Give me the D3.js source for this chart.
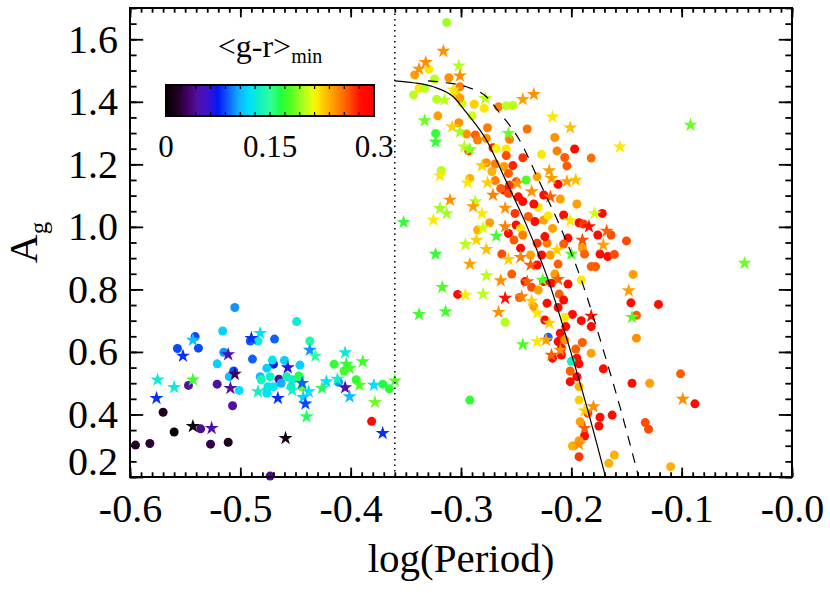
<!DOCTYPE html>
<html>
<head>
<meta charset="utf-8">
<script src="https://cdn.jsdelivr.net/npm/d3@7"></script>
<style>
  body { margin: 0; background: #fff; }
  svg { display: block; font-family: "Liberation Serif", "Times New Roman", serif; }
</style>
</head>
<body>
<svg id="chart" width="830" height="593"></svg>
<script>
const xTicks      = [-0.6, -0.5, -0.4, -0.3, -0.2, -0.1, 0.0];
const xTickLabels = ['-0.6', '-0.5', '-0.4', '-0.3', '-0.2', '-0.1', '-0.0'];
const yTicks      = [0.2, 0.4, 0.6, 0.8, 1.0, 1.2, 1.4, 1.6];
const yTickLabels = ['0.2', '0.4', '0.6', '0.8', '1.0', '1.2', '1.4', '1.6'];

const barTicks      = [0, 0.15, 0.3];
const barTickLabels = ['0', '0.15', '0.3'];

const cutoffPeriod = -0.36;

// solid relation and the same relation shifted (dashed)
const fitX   = [-0.360, -0.343, -0.325, -0.307, -0.295, -0.277, -0.259, -0.240, -0.222, -0.201, -0.186, -0.169];
const fitA   = [1.467, 1.461, 1.448, 1.416, 1.365, 1.278, 1.145, 1.000, 0.841, 0.606, 0.425, 0.200];
const shiftX = [-0.330, -0.313, -0.295, -0.277, -0.265, -0.247, -0.229, -0.210, -0.192, -0.171, -0.156, -0.139];
const shiftA = [1.467, 1.461, 1.448, 1.416, 1.365, 1.278, 1.145, 1.000, 0.841, 0.606, 0.425, 0.200];

// colour table (fraction of the 0 - 0.3 range)
const cmapStops  = [0, 0.05, 0.10, 0.15, 0.20, 0.25, 0.30, 0.35, 0.40, 0.45, 0.50, 0.55, 0.60, 0.65, 0.70, 0.733, 0.75, 0.80, 0.833, 0.88, 0.93, 1];
const cmapColors = ['#000000', '#200020', '#400060', '#5010a0', '#4010d0', '#0018f8', '#1060ff', '#10b0ff', '#00e0ff', '#10f0c0',
                    '#30ffa0', '#20ff40', '#50ff20', '#a0ff20', '#e8ff10', '#ffe800', '#ffd000', '#ffa000', '#ff8000', '#ff5000',
                    '#ff1000', '#ff0000'];

// [log(Period), A_g, <g-r>_min]
const circles = [
  [-0.505,0.742,0.100],[-0.449,0.697,0.130],[-0.516,0.667,0.115],[-0.541,0.649,0.085],[-0.557,0.611,0.085],
  [-0.538,0.612,0.085],[-0.515,0.599,0.100],[-0.521,0.562,0.115],[-0.506,0.539,0.085],[-0.510,0.521,0.110],
  [-0.501,0.477,0.120],[-0.547,0.493,0.045],[-0.521,0.497,0.045],[-0.507,0.428,0.045],[-0.570,0.407,0.015],
  [-0.560,0.344,0.005],[-0.595,0.302,0.020],[-0.582,0.307,0.020],[-0.536,0.354,0.040],[-0.527,0.305,0.025],
  [-0.511,0.311,0.015],[-0.473,0.203,0.040],[-0.489,0.577,0.090],[-0.491,0.635,0.090],[-0.484,0.635,0.130],
  [-0.469,0.641,0.090],[-0.470,0.561,0.075],[-0.471,0.574,0.125],[-0.476,0.548,0.115],[-0.482,0.521,0.110],
  [-0.481,0.511,0.140],[-0.473,0.521,0.135],[-0.475,0.489,0.125],[-0.476,0.468,0.120],[-0.470,0.489,0.125],
  [-0.465,0.513,0.045],[-0.463,0.500,0.105],[-0.460,0.573,0.115],[-0.458,0.521,0.135],[-0.453,0.511,0.135],
  [-0.454,0.489,0.130],[-0.446,0.558,0.115],[-0.437,0.635,0.145],[-0.447,0.523,0.165],[-0.446,0.516,0.160],
  [-0.444,0.487,0.185],[-0.415,0.561,0.170],[-0.406,0.539,0.175],[-0.411,0.503,0.100],[-0.395,0.511,0.170],
  [-0.371,0.497,0.165],[-0.365,0.482,0.170],[-0.381,0.378,0.290],
  [-0.313,1.654,0.195],[-0.342,1.486,0.240],[-0.329,1.504,0.220],[-0.324,1.473,0.200],[-0.338,1.443,0.220],
  [-0.343,1.422,0.200],[-0.333,1.443,0.200],[-0.322,1.408,0.200],[-0.311,1.477,0.245],[-0.301,1.448,0.250],
  [-0.304,1.422,0.225],[-0.299,1.395,0.205],[-0.301,1.412,0.240],[-0.321,1.355,0.240],[-0.288,1.392,0.225],
  [-0.279,1.379,0.220],[-0.290,1.355,0.205],[-0.266,1.384,0.250],[-0.259,1.387,0.200],[-0.253,1.389,0.200],
  [-0.302,1.333,0.245],[-0.323,1.299,0.170],[-0.295,1.297,0.245],[-0.287,1.294,0.260],[-0.276,1.317,0.250],
  [-0.285,1.278,0.250],[-0.277,1.283,0.245],[-0.256,1.280,0.250],[-0.240,1.313,0.255],[-0.215,1.286,0.245],
  [-0.197,1.249,0.285],[-0.271,1.253,0.275],[-0.268,1.251,0.215],[-0.259,1.249,0.220],[-0.293,1.243,0.265],
  [-0.259,1.228,0.265],[-0.227,1.232,0.220],[-0.213,1.243,0.250],[-0.244,1.221,0.270],[-0.206,1.222,0.260],
  [-0.182,1.220,0.255],[-0.204,1.195,0.260],[-0.277,1.205,0.245],[-0.269,1.201,0.250],[-0.253,1.196,0.275],
  [-0.261,1.193,0.240],[-0.272,1.177,0.235],[-0.257,1.171,0.260],[-0.318,1.180,0.200],[-0.292,1.155,0.235],
  [-0.241,1.150,0.180],[-0.231,1.160,0.240],[-0.212,1.136,0.290],[-0.256,1.134,0.270],[-0.261,1.118,0.285],
  [-0.250,1.144,0.265],[-0.269,1.148,0.250],[-0.264,1.123,0.260],[-0.210,1.089,0.240],[-0.248,1.096,0.285],
  [-0.257,1.107,0.265],[-0.225,1.102,0.285],[-0.239,1.033,0.260],[-0.222,0.948,0.250],[-0.222,0.756,0.285],
  [-0.172,1.043,0.285],[-0.207,1.038,0.285],[-0.230,1.063,0.220],[-0.195,1.073,0.240],[-0.234,1.073,0.285],
  [-0.244,1.081,0.285],[-0.251,1.043,0.270],[-0.250,1.006,0.285],[-0.233,1.017,0.285],[-0.225,1.022,0.240],
  [-0.221,1.035,0.220],[-0.274,1.013,0.240],[-0.285,0.990,0.235],[-0.257,0.979,0.285],[-0.246,0.995,0.220],
  [-0.244,0.974,0.250],[-0.224,0.969,0.285],[-0.217,0.995,0.240],[-0.193,1.013,0.285],[-0.189,1.009,0.270],
  [-0.176,0.974,0.285],[-0.164,0.974,0.265],[-0.150,0.955,0.265],[-0.203,0.964,0.285],[-0.252,0.958,0.260],
  [-0.246,0.932,0.285],[-0.231,0.948,0.270],[-0.207,0.945,0.260],[-0.190,0.932,0.240],[-0.188,0.913,0.260],
  [-0.174,0.913,0.285],[-0.167,0.905,0.285],[-0.161,0.912,0.265],[-0.263,0.913,0.265],[-0.237,0.910,0.240],
  [-0.227,0.910,0.285],[-0.219,0.910,0.240],[-0.212,0.881,0.260],[-0.182,0.873,0.260],[-0.178,0.873,0.260],
  [-0.231,0.878,0.285],[-0.254,0.849,0.260],[-0.215,0.849,0.240],[-0.144,0.848,0.240],[-0.242,0.825,0.285],
  [-0.236,0.807,0.265],[-0.225,0.825,0.285],[-0.218,0.820,0.285],[-0.203,0.817,0.285],[-0.230,0.798,0.240],
  [-0.211,0.785,0.260],[-0.191,0.830,0.220],[-0.303,0.784,0.285],[-0.247,0.774,0.260],[-0.207,0.766,0.285],
  [-0.234,0.745,0.240],[-0.146,0.757,0.285],[-0.121,0.752,0.285],[-0.212,0.742,0.285],[-0.260,0.695,0.200],
  [-0.199,0.720,0.285],[-0.191,0.700,0.285],[-0.206,0.711,0.220],[-0.182,0.681,0.285],[-0.141,0.717,0.260],
  [-0.224,0.702,0.285],[-0.205,0.681,0.285],[-0.141,0.644,0.245],[-0.221,0.647,0.090],[-0.210,0.660,0.285],
  [-0.212,0.633,0.285],[-0.206,0.638,0.245],[-0.190,0.630,0.260],[-0.196,0.609,0.260],[-0.209,0.612,0.285],
  [-0.182,0.596,0.240],[-0.209,0.590,0.285],[-0.217,0.580,0.285],[-0.195,0.580,0.285],[-0.200,0.570,0.135],
  [-0.193,0.562,0.285],[-0.171,0.546,0.285],[-0.201,0.539,0.260],[-0.195,0.521,0.285],[-0.101,0.530,0.260],
  [-0.201,0.505,0.285],[-0.145,0.500,0.285],[-0.129,0.500,0.240],[-0.193,0.489,0.235],[-0.292,0.446,0.170],
  [-0.193,0.446,0.225],[-0.088,0.434,0.285],[-0.185,0.404,0.265],[-0.174,0.391,0.285],[-0.163,0.398,0.285],
  [-0.192,0.377,0.240],[-0.175,0.363,0.285],[-0.133,0.374,0.265],[-0.130,0.353,0.265],[-0.188,0.331,0.285],
  [-0.193,0.316,0.240],[-0.199,0.299,0.235],[-0.193,0.265,0.270],[-0.166,0.244,0.235],[-0.161,0.270,0.235],
  [-0.110,0.233,0.235]
];

const stars = [
  [-0.482,0.660,0.120],[-0.490,0.644,0.080],[-0.543,0.638,0.110],[-0.552,0.587,0.080],[-0.511,0.592,0.050],
  [-0.575,0.511,0.130],[-0.560,0.487,0.130],[-0.543,0.511,0.175],[-0.576,0.452,0.080],[-0.505,0.529,0.030],
  [-0.509,0.484,0.045],[-0.543,0.362,0.005],[-0.526,0.356,0.050],[-0.459,0.324,0.010],[-0.457,0.550,0.065],
  [-0.466,0.452,0.080],[-0.484,0.473,0.135],[-0.475,0.478,0.125],[-0.453,0.478,0.135],[-0.444,0.500,0.090],
  [-0.443,0.455,0.115],[-0.438,0.473,0.120],[-0.441,0.434,0.085],[-0.440,0.393,0.160],[-0.437,0.606,0.100],
  [-0.432,0.587,0.150],[-0.422,0.505,0.120],[-0.426,0.484,0.160],[-0.412,0.513,0.135],[-0.405,0.598,0.130],
  [-0.404,0.561,0.170],[-0.401,0.548,0.175],[-0.389,0.569,0.175],[-0.392,0.494,0.180],[-0.405,0.486,0.050],
  [-0.401,0.457,0.110],[-0.379,0.494,0.120],[-0.378,0.439,0.185],[-0.371,0.340,0.080],[-0.360,0.508,0.180],
  [-0.316,1.562,0.245],[-0.332,1.526,0.245],[-0.338,1.505,0.245],[-0.302,1.515,0.200],[-0.301,1.483,0.245],
  [-0.307,1.438,0.220],[-0.315,1.406,0.200],[-0.278,1.411,0.200],[-0.244,1.408,0.240],[-0.234,1.424,0.245],
  [-0.217,1.352,0.220],[-0.201,1.317,0.230],[-0.156,1.256,0.220],[-0.092,1.326,0.185],[-0.333,1.340,0.185],
  [-0.308,1.320,0.225],[-0.301,1.304,0.195],[-0.323,1.272,0.170],[-0.257,1.299,0.185],[-0.297,1.256,0.200],
  [-0.292,1.248,0.190],[-0.319,1.164,0.220],[-0.281,1.196,0.225],[-0.276,1.141,0.225],[-0.294,1.141,0.220],
  [-0.220,1.180,0.240],[-0.218,1.155,0.240],[-0.204,1.145,0.240],[-0.196,1.150,0.230],[-0.236,1.113,0.245],
  [-0.219,1.096,0.260],[-0.271,1.102,0.250],[-0.310,1.086,0.245],[-0.249,1.139,0.240],[-0.287,1.081,0.200],
  [-0.289,1.065,0.240],[-0.260,1.060,0.245],[-0.213,0.926,0.225],[-0.200,0.913,0.180],[-0.240,0.825,0.260],
  [-0.179,1.043,0.205],[-0.201,1.020,0.220],[-0.184,1.001,0.280],[-0.168,0.987,0.260],[-0.190,0.958,0.265],
  [-0.171,0.942,0.240],[-0.260,1.001,0.250],[-0.281,1.043,0.220],[-0.280,0.997,0.205],[-0.313,1.043,0.195],
  [-0.319,1.059,0.195],[-0.325,1.022,0.220],[-0.352,1.015,0.170],[-0.268,0.971,0.175],[-0.286,0.958,0.225],
  [-0.277,0.928,0.230],[-0.296,0.944,0.200],[-0.323,0.913,0.170],[-0.257,0.896,0.225],[-0.246,0.903,0.250],
  [-0.237,0.878,0.260],[-0.292,0.881,0.240],[-0.277,0.844,0.200],[-0.264,0.828,0.245],[-0.226,0.830,0.180],
  [-0.212,0.832,0.260],[-0.317,0.807,0.180],[-0.296,0.782,0.220],[-0.280,0.785,0.200],[-0.260,0.772,0.280],
  [-0.245,0.777,0.250],[-0.236,0.763,0.225],[-0.231,0.724,0.220],[-0.266,0.727,0.245],[-0.148,0.796,0.240],
  [-0.145,0.711,0.180],[-0.182,0.715,0.280],[-0.314,0.729,0.175],[-0.338,0.720,0.175],[-0.043,0.884,0.185],
  [-0.220,0.692,0.225],[-0.223,0.638,0.240],[-0.231,0.633,0.220],[-0.244,0.624,0.180],[-0.210,0.606,0.245],
  [-0.218,0.590,0.260],[-0.188,0.412,0.225],[-0.180,0.425,0.245],[-0.188,0.356,0.260],[-0.193,0.305,0.245],
  [-0.099,0.449,0.245]
];

const plot = {left: 130, right: 792, top: 8, bottom: 477};
const bar  = {left: 166, right: 374, top: 85, bottom: 116};
const tickFont = 40;

const svg = d3.select('#chart');

const x = d3.scaleLinear().domain([-0.6, 0.0]).range([plot.left, plot.right]);
const y = d3.scaleLinear().domain([0.2, 1.7]).range([plot.bottom, plot.top]);
const grMax = 0.3;
const color = d3.scaleLinear()
  .domain(cmapStops.map(f => f * grMax))
  .range(cmapColors)
  .clamp(true);

// points
svg.append('g')
  .attr('class', 'circles')
  .selectAll('circle')
  .data(circles)
  .enter()
  .append('circle')
  .attr('cx', d => x(d[0]))
  .attr('cy', d => y(d[1]))
  .attr('r', 4.5)
  .attr('fill', d => color(d[2]));

const star = d3.symbol().type(d3.symbolStar).size(62);

svg.append('g')
  .attr('class', 'stars')
  .selectAll('path')
  .data(stars)
  .enter()
  .append('path')
  .attr('d', star)
  .attr('transform', d => `translate(${x(d[0])},${y(d[1])})`)
  .attr('fill', d => color(d[2]));

// relations
const line = d3.line()
  .x(d => x(d[0]))
  .y(d => y(d[1]))
  .curve(d3.curveMonotoneX);

svg.append('path')
  .datum(d3.zip(fitX, fitA))
  .attr('d', line)
  .attr('fill', 'none')
  .attr('stroke', '#000')
  .attr('stroke-width', 1.2);

svg.append('path')
  .datum(d3.zip(shiftX, shiftA))
  .attr('d', line)
  .attr('fill', 'none')
  .attr('stroke', '#000')
  .attr('stroke-width', 1.2)
  .attr('stroke-dasharray', '10,8');

svg.append('line')
  .attr('x1', x(cutoffPeriod))
  .attr('x2', x(cutoffPeriod))
  .attr('y1', y(0.2))
  .attr('y2', y(1.7))
  .attr('stroke', '#000')
  .attr('stroke-width', 1.5)
  .attr('stroke-dasharray', '1.5,4');

// axes: ticks point inwards on all four sides
const xMinor = d3.range(-60, 1).map(i => i / 100);
const yMinor = d3.range(4, 35).map(i => i / 20);
const xLen = 9.4, yLen = 13.2;

function styleAxis(g) {
  g.select('.domain').remove();
  g.attr('font-size', null).attr('font-family', null);
  g.selectAll('line').attr('stroke-width', 1.8);
}

const xLabel = v => xTickLabels[xTicks.findIndex(t => Math.abs(t - v) < 1e-9)];
const yLabel = v => yTickLabels[yTicks.findIndex(t => Math.abs(t - v) < 1e-9)];

svg.append('g')
  .attr('transform', `translate(0,${plot.bottom})`)
  .call(d3.axisBottom(x).tickValues(xMinor).tickSize(-xLen / 2).tickFormat(''))
  .call(styleAxis);

const xAxis = svg.append('g')
  .attr('transform', `translate(0,${plot.bottom})`)
  .call(d3.axisBottom(x).tickValues(xTicks).tickSize(-xLen).tickPadding(16.6).tickFormat(xLabel))
  .call(styleAxis);

svg.append('g')
  .attr('transform', `translate(0,${plot.top})`)
  .call(d3.axisTop(x).tickValues(xMinor).tickSize(-xLen / 2).tickFormat(''))
  .call(styleAxis);

svg.append('g')
  .attr('transform', `translate(0,${plot.top})`)
  .call(d3.axisTop(x).tickValues(xTicks).tickSize(-xLen).tickFormat(''))
  .call(styleAxis);

svg.append('g')
  .attr('transform', `translate(${plot.left},0)`)
  .call(d3.axisLeft(y).tickValues(yMinor).tickSize(-yLen / 2).tickFormat(''))
  .call(styleAxis);

const yAxis = svg.append('g')
  .attr('transform', `translate(${plot.left},0)`)
  .call(d3.axisLeft(y).tickValues(yTicks).tickSize(-yLen).tickPadding(12).tickFormat(yLabel))
  .call(styleAxis);

svg.append('g')
  .attr('transform', `translate(${plot.right},0)`)
  .call(d3.axisRight(y).tickValues(yMinor).tickSize(-yLen / 2).tickFormat(''))
  .call(styleAxis);

svg.append('g')
  .attr('transform', `translate(${plot.right},0)`)
  .call(d3.axisRight(y).tickValues(yTicks).tickSize(-yLen).tickFormat(''))
  .call(styleAxis);

xAxis.selectAll('text').attr('font-size', tickFont);
yAxis.selectAll('text').attr('font-size', tickFont);
// the lowest y label sits a little above its tick, as in the original
yAxis.selectAll('.tick')
  .filter(d => d === y.domain()[0])
  .select('text')
  .attr('y', -15);

svg.append('rect')
  .attr('x', plot.left)
  .attr('y', plot.top)
  .attr('width', plot.right - plot.left)
  .attr('height', plot.bottom - plot.top)
  .attr('fill', 'none')
  .attr('stroke', '#000')
  .attr('stroke-width', 2);

// axis titles
svg.append('text')
  .attr('x', (plot.left + plot.right) / 2)
  .attr('y', 572)
  .attr('text-anchor', 'middle')
  .attr('font-size', 41)
  .text('log(Period)');

const yTitle = svg.append('text')
  .attr('transform', `translate(37,${(plot.top + plot.bottom) / 2}) rotate(-90)`)
  .attr('text-anchor', 'middle')
  .attr('font-size', 40);
yTitle.append('tspan').text('A');
yTitle.append('tspan').attr('font-size', 25).attr('dy', 10).text('g');

// colour bar
const grad = svg.append('defs')
  .append('linearGradient')
  .attr('id', 'cbar')
  .attr('x1', '0%').attr('x2', '100%')
  .attr('y1', '0%').attr('y2', '0%');

grad.selectAll('stop')
  .data(d3.zip(cmapStops, cmapColors))
  .enter()
  .append('stop')
  .attr('offset', d => d[0])
  .attr('stop-color', d => d[1]);

const barX = d3.scaleLinear().domain([0, grMax]).range([bar.left, bar.right]);

svg.append('rect')
  .attr('x', bar.left)
  .attr('y', bar.top)
  .attr('width', bar.right - bar.left)
  .attr('height', bar.bottom - bar.top)
  .attr('fill', 'url(#cbar)')
  .attr('stroke', '#000')
  .attr('stroke-width', 2);

const barMinor = d3.range(1, 14).map(i => i * grMax / 14);

svg.append('g')
  .attr('class', 'bar-ticks')
  .selectAll('path')
  .data(barMinor)
  .enter()
  .append('path')
  .attr('d', v => `M${barX(v)},${bar.top}v4M${barX(v)},${bar.bottom}v-4`)
  .attr('stroke', '#000')
  .attr('stroke-width', 1.2);

svg.append('g')
  .attr('class', 'bar-labels')
  .selectAll('text')
  .data(barTicks)
  .enter()
  .append('text')
  .attr('x', v => barX(v))
  .attr('y', 157)
  .attr('text-anchor', 'middle')
  .attr('font-size', 31)
  .text((v, i) => barTickLabels[i]);

const barTitle = svg.append('text')
  .attr('x', (bar.left + bar.right) / 2)
  .attr('y', 57)
  .attr('text-anchor', 'middle')
  .attr('font-size', 32);
barTitle.append('tspan').text('<g-r>');
barTitle.append('tspan').attr('font-size', 20).attr('dy', 6).text('min');
</script>
</body>
</html>
